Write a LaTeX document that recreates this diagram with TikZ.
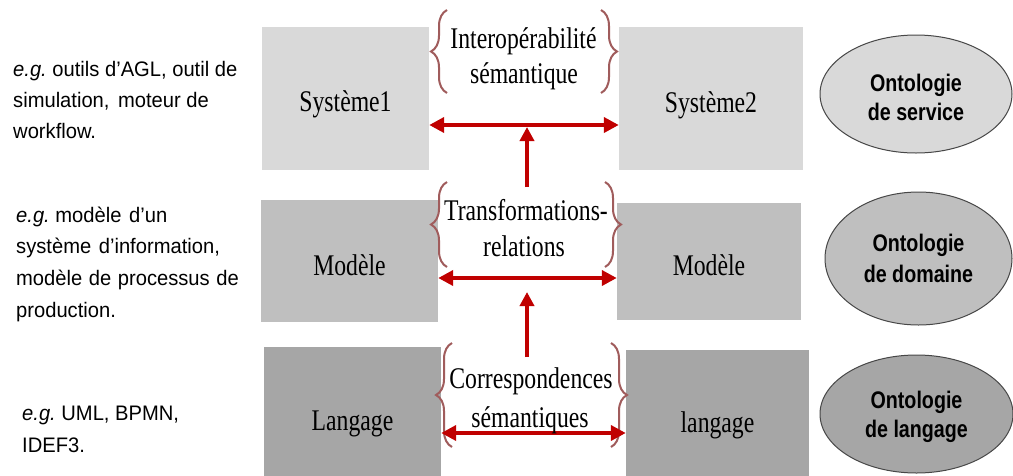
\documentclass[tikz,border=0pt]{standalone}
\usepackage{fontspec}
\usetikzlibrary{arrows.meta,decorations.pathreplacing,shapes.geometric}
\newfontfamily\tnr[FakeStretch=0.79]{Liberation Serif}
\newfontfamily\arl[FakeStretch=0.96]{Liberation Sans}
\newfontfamily\arlb[FakeStretch=0.82]{Liberation Sans}
\definecolor{arrred}{HTML}{C00000}
\definecolor{brcol}{RGB}{160,92,92}
\definecolor{g1}{HTML}{D9D9D9}
\definecolor{g2}{HTML}{BFBFBF}
\definecolor{g3}{HTML}{A6A6A6}
\definecolor{edgegray}{HTML}{474747}
\tikzset{
  box/.style={rectangle, inner sep=0pt, draw=none, text depth=0pt,
    font=\tnr\fontsize{30}{36}\selectfont},
  onto/.style={ellipse, inner sep=0pt, draw=edgegray, line width=1pt, align=center,
    font=\arlb\bfseries\fontsize{24}{29}\selectfont},
  lbl/.style={anchor=base, inner sep=0pt, font=\tnr\fontsize{30}{36}\selectfont},
  ex/.style={anchor=base west, inner sep=0pt, font=\arl\fontsize{21}{31}\selectfont},
  darr/.style={draw=arrred, line width=4pt,
    {Triangle[length=15pt,width=15pt]}-{Triangle[length=15pt,width=15pt]}},
  uarr/.style={draw=arrred, line width=4pt, -{Triangle[length=14pt,width=14pt]}},
  br/.style={draw=brcol, line width=2pt, decorate,
    decoration={brace, amplitude=16pt}}
}
\begin{document}
\begin{tikzpicture}[x=1pt,y=-1pt]
\useasboundingbox (0,0) rectangle (1013,475);
\clip (0,0) rectangle (1013,475);
\fill[white] (0,0) rectangle (1013,475);

% boxes
\node[box, fill=g1, minimum width=167pt, minimum height=143pt, text height=25pt] (sys1) at (345.5,98.5) {Système1};
\node[box, fill=g1, minimum width=184pt, minimum height=143pt, text height=27pt] (sys2) at (711,98.5) {Système2};
\node[box, fill=g2, minimum width=177pt, minimum height=122pt, text height=28pt] (mod1) at (349.5,261) {Modèle};
\node[box, fill=g2, minimum width=184pt, minimum height=117pt, text height=27pt] (mod2) at (709,261.5) {Modèle};
\node[box, fill=g3, minimum width=177pt, minimum height=129pt, text height=37pt] (lang1) at (352.5,411.5) {Langage};
\node[box, fill=g3, minimum width=183pt, minimum height=126pt, text height=38pt] (lang2) at (717.5,413) {langage};

% ellipses
\node[onto, fill=g1, minimum width=192pt, minimum height=118pt] (os) at (916,94) {\rule{0pt}{25pt}Ontologie\\de service};
\node[onto, fill=g2, minimum width=187pt, minimum height=133pt] (od) at (918.5,258.5) {Ontologie\\[2pt]de domaine};
\node[onto, fill=g3, minimum width=193pt, minimum height=118pt] (ol) at (916.5,414) {\rule{0pt}{23.5pt}Ontologie\\de langage};

% braces
\draw[br] (447,93) -- (447,10);
\draw[br] (601,10) -- (601,93);
\draw[br] (447,267) -- (447,182);
\draw[br] (605,182) -- (605,267);
\draw[br] (452,447) -- (452,343);
\draw[br] (611,343) -- (611,447);

% arrows
\draw[darr] ([yshift=-26.5pt]sys1.east) -- ([yshift=-26.5pt]sys2.west);
\draw[darr] ([yshift=-17pt]mod1.east) -- ([yshift=-16.5pt]mod2.west);
\draw[darr] ([yshift=-21.5pt]lang1.east) -- ([yshift=-20pt]lang2.west);
\coordinate (v1s) at (527,187);
\coordinate (v1e) at (527,127);
\coordinate (v2s) at (527,357);
\coordinate (v2e) at (527,292);
\draw[uarr] (v1s) -- (v1e);
\draw[uarr] (v2s) -- (v2e);

% middle labels
\node[lbl] (io1) at (523.5,48) {Interopérabilité};
\node[lbl] (io2) at (524,83) {sémantique};
\node[lbl] (tr1) at (526,220) {Transformations-};
\node[lbl] (tr2) at (524,256) {relations};
\node[lbl] (co1) at (531,388) {Correspondences};
\node[lbl] (co2) at (530,427) {sémantiques};

% examples
\node[ex] (e1a) at (13,76) {\textit{e.g.}\ outils d’AGL, outil de};
\node[ex] (e1b) at (13,107) {simulation,\hspace{3pt} moteur de};
\node[ex] (e1c) at (13,138) {workflow.};
\node[ex] (e2a) at (16,222) {\textit{e.g.}\ modèle\hspace{2pt} d’un};
\node[ex] (e2b) at (16,253) {système\hspace{2pt} d’information,};
\node[ex] (e2c) at (16,285) {modèle\hspace{1pt} de\hspace{1pt} processus\hspace{1pt} de};
\node[ex] (e2d) at (16,317) {production.};
\node[ex] (e3a) at (22,420) {\textit{e.g.}\ UML, BPMN,};
\node[ex] (e3b) at (22,452) {IDEF3.};
\end{tikzpicture}
\end{document}
